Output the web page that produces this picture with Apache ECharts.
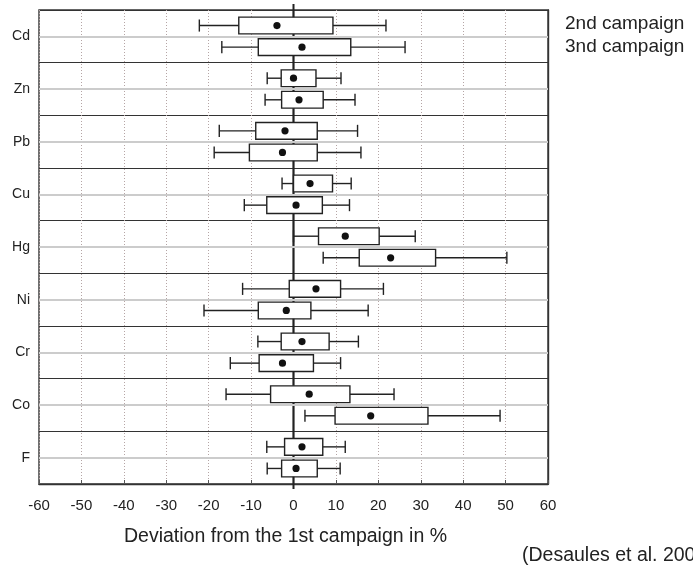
<!DOCTYPE html>
<html>
<head>
<meta charset="utf-8">
<title>Deviation from the 1st campaign</title>
<script src="https://cdn.jsdelivr.net/npm/echarts@6/dist/echarts.min.js"></script>
<style>
    html, body { margin: 0; padding: 0; background: #fff; }
    #chart { width: 693px; height: 570px; }
</style>
</head>
<body>
<div id="chart"></div>
<script>
// Elements, top to bottom
const elements = ['Cd', 'Zn', 'Pb', 'Cu', 'Hg', 'Ni', 'Cr', 'Co', 'F'];

// 2nd campaign: whisker low, box low, dot, box high, whisker high (%)
const low2 = [-22.2, -6.2, -17.5, -2.7, 0.0, -12.0, -8.4, -15.9, -6.3];
const q1_2 = [-12.9, -2.9, -8.9, 0.0, 5.9, -1.0, -2.9, -5.4, -2.1];
const mid2 = [-3.9, 0.0, -2.0, 3.9, 12.2, 5.3, 2.0, 3.7, 2.0];
const q3_2 = [9.3, 5.3, 5.6, 9.2, 20.2, 11.1, 8.4, 13.3, 6.9];
const high2 = [21.8, 11.2, 15.1, 13.6, 28.7, 21.2, 15.3, 23.7, 12.2];

// 3rd campaign
const low3 = [-16.9, -6.7, -18.7, -11.6, 7.0, -21.1, -14.9, 2.7, -6.2];
const q1_3 = [-8.3, -2.8, -10.4, -6.3, 15.5, -8.3, -8.1, 9.8, -2.8];
const mid3 = [2.0, 1.3, -2.6, 0.6, 22.9, -1.7, -2.6, 18.2, 0.6];
const q3_3 = [13.5, 7.0, 5.6, 6.8, 33.5, 4.1, 4.7, 31.7, 5.6];
const high3 = [26.3, 14.5, 15.9, 13.2, 50.3, 17.6, 11.1, 48.7, 11.0];

const xTicks = [-60, 60, 10]; // min, max, interval

const ink = '#222';

function buildRows(lo, a, m, b, hi) {
    return elements.map((el, i) => [i, lo[i], a[i], m[i], b[i], hi[i]]);
}

function boxRenderer(offset) {
    return function (params, api) {
        const cat = api.value(0);
        const band = api.size([0, 1])[1];
        const yc = api.coord([0, cat])[1] + offset * band;
        const xs = [1, 2, 3, 4, 5].map(k => api.coord([api.value(k), cat])[0]);
        const boxH = band * 0.318;
        const capH = band * 0.115;
        const line = { stroke: ink, lineWidth: 1.4 };
        return {
            type: 'group',
            children: [
                { type: 'line', shape: { x1: xs[0], y1: yc, x2: xs[1], y2: yc }, style: line },
                { type: 'line', shape: { x1: xs[3], y1: yc, x2: xs[4], y2: yc }, style: line },
                { type: 'line', shape: { x1: xs[0], y1: yc - capH, x2: xs[0], y2: yc + capH }, style: line },
                { type: 'line', shape: { x1: xs[4], y1: yc - capH, x2: xs[4], y2: yc + capH }, style: line },
                {
                    type: 'rect',
                    shape: { x: xs[1], y: yc - boxH / 2, width: xs[3] - xs[1], height: boxH },
                    style: { fill: '#fff', stroke: ink, lineWidth: 1.4 }
                },
                { type: 'circle', shape: { cx: xs[2], cy: yc, r: 3.6 }, style: { fill: '#111' } }
            ]
        };
    };
}

const chart = echarts.init(document.getElementById('chart'));

const option = {
    animation: false,
    textStyle: { fontFamily: 'Liberation Sans, Arial, sans-serif', color: ink },
    grid: {
        left: 39, right: 145, top: 10, bottom: 86,
        show: true, borderColor: '#333', borderWidth: 1.4, backgroundColor: 'transparent'
    },
    legend: {
        orient: 'vertical',
        left: 560,
        top: 13.5,
        padding: 0,
        icon: 'none',
        itemWidth: 0,
        itemHeight: 14,
        itemGap: 1.7,
        selectedMode: false,
        textStyle: { fontSize: 19, color: ink, lineHeight: 21 },
        data: ['2nd campaign', '3nd campaign']
    },
    xAxis: {
        type: 'value',
        min: xTicks[0],
        max: xTicks[1],
        interval: xTicks[2],
        name: 'Deviation from the 1st campaign in %',
        nameLocation: 'middle',
        nameGap: 43,
        nameTextStyle: { fontSize: 19.5, color: ink, padding: [0, 16, 0, 0] },
        axisLine: { show: true, lineStyle: { color: '#333', width: 1.4 } },
        axisTick: { show: true, inside: true, length: 4, lineStyle: { color: '#555' } },
        axisLabel: { fontSize: 15, color: ink, margin: 14 },
        splitLine: { show: true, lineStyle: { color: '#b5a5a5', type: [1, 2], width: 1 } }
    },
    yAxis: [{
        type: 'category',
        data: elements,
        inverse: true,
        axisLine: { show: true, lineStyle: { color: '#333', width: 1.4 } },
        axisTick: { show: true, inside: true, alignWithLabel: true, length: 5, lineStyle: { color: '#333' } },
        axisLabel: { fontSize: 14, color: ink, margin: 9 },
        splitLine: { show: true, lineStyle: { color: '#333', width: 1.2 } }
    }, {
        type: 'category',
        data: elements,
        inverse: true,
        position: 'right',
        axisLine: { show: true, lineStyle: { color: '#333', width: 1.4 } },
        axisTick: { show: true, inside: true, alignWithLabel: true, length: 5, lineStyle: { color: '#333' } },
        axisLabel: { show: false },
        splitLine: { show: false }
    }],
    series: [
        {
            // zero reference line, slightly longer than the plot, plus category center lines
            type: 'custom',
            name: 'zero',
            z: 1,
            silent: true,
            data: [[0]],
            encode: { x: 0 },
            renderItem: function (params, api) {
                const x = api.coord([0, 0])[0];
                const cs = params.coordSys;
                return {
                    type: 'line',
                    shape: { x1: x, y1: cs.y - 6, x2: x, y2: cs.y + cs.height + 5 },
                    style: { stroke: ink, lineWidth: 2 }
                };
            },
            markLine: {
                silent: true,
                symbol: ['none', 'none'],
                label: { show: false },
                lineStyle: { color: '#cccccc', width: 2, type: 'solid' },
                data: elements.map(el => ({ yAxis: el }))
            }
        },
        {
            type: 'custom',
            name: '2nd campaign',
            z: 3,
            itemStyle: { color: ink },
            data: buildRows(low2, q1_2, mid2, q3_2, high2),
            encode: { x: [1, 2, 3, 4, 5], y: 0 },
            renderItem: boxRenderer(-0.205)
        },
        {
            type: 'custom',
            name: '3nd campaign',
            z: 3,
            itemStyle: { color: ink },
            data: buildRows(low3, q1_3, mid3, q3_3, high3),
            encode: { x: [1, 2, 3, 4, 5], y: 0 },
            renderItem: boxRenderer(0.205)
        }
    ],
    graphic: [{
        type: 'text',
        left: 522,
        top: 546,
        style: { text: '(Desaules et al. 2008)', fontSize: 19.5, fill: ink, fontFamily: 'Liberation Sans, Arial, sans-serif' }
    }]
};

chart.setOption(option);
</script>
</body>
</html>
